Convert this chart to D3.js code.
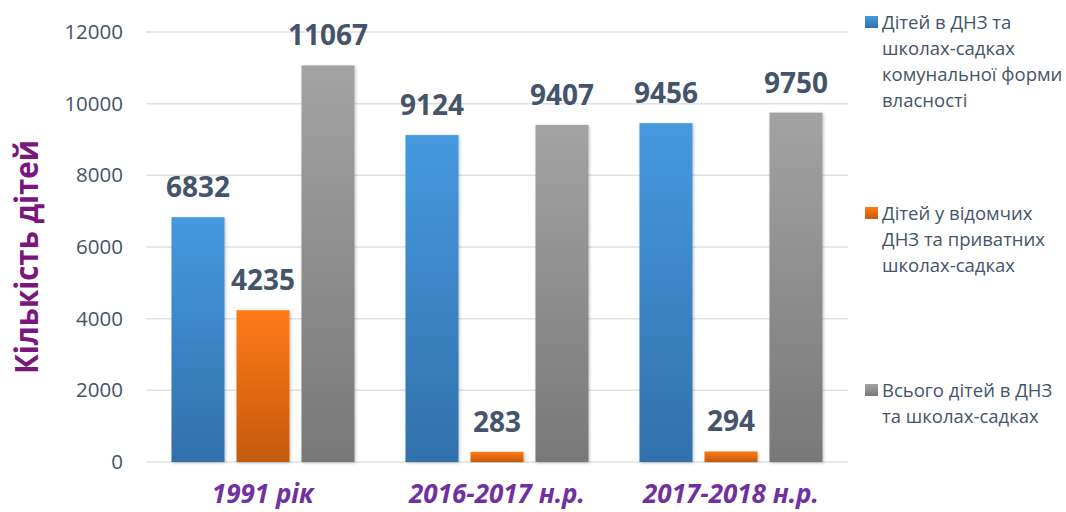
<!DOCTYPE html>
<html>
<head>
<meta charset="utf-8">
<script src="https://cdn.jsdelivr.net/npm/d3@7"></script>
<style>
  body { margin: 0; background: #fff; }
  svg { display: block; }
</style>
</head>
<body>
<svg id="chart" width="1066" height="512"></svg>
<script>
const categories = ["1991 рік", "2016-2017 н.р.", "2017-2018 н.р."];
const seriesNames = [
  "Дітей в ДНЗ та школах-садках комунальної форми власності",
  "Дітей у відомчих ДНЗ та приватних школах-садках",
  "Всього дітей в ДНЗ та школах-садках"
];
const legendLines = [
  ["Дітей в ДНЗ та", "школах-садках", "комунальної форми", "власності"],
  ["Дітей у відомчих", "ДНЗ та приватних", "школах-садках"],
  ["Всього дітей в ДНЗ", "та школах-садках"]
];
const communal = [6832, 9124, 9456];
const privateDept = [4235, 283, 294];
const total = [11067, 9407, 9750];
const seriesValues = [communal, privateDept, total];
const yTicks = [0, 2000, 4000, 6000, 8000, 10000, 12000];
const yTitle = "Кількість дітей";

const gradStops = [
  ["#4599e0", "#3270aa"],
  ["#ff7a12", "#c55a11"],
  ["#a3a3a3", "#787878"]
];

const svg = d3.select("#chart");
const mLeft = 146, mRight = 848, mTop = 32, mBottom = 462;

const defs = svg.append("defs");
gradStops.forEach((g, i) => {
  const lg = defs.append("linearGradient").attr("id", "g" + i)
    .attr("x1", 0).attr("y1", 0).attr("x2", 0).attr("y2", 1);
  lg.append("stop").attr("offset", "0%").attr("stop-color", g[0]);
  lg.append("stop").attr("offset", "100%").attr("stop-color", g[1]);
});
const f = defs.append("filter").attr("id", "shadow").attr("x", "-20%").attr("y", "-5%").attr("width", "140%").attr("height", "110%");
f.append("feDropShadow").attr("dx", 1).attr("dy", 1).attr("stdDeviation", 1.5).attr("flood-color", "#000").attr("flood-opacity", 0.25);

const y = d3.scaleLinear().domain([0, 12000]).range([mBottom, mTop]);
const x0 = d3.scaleBand().domain(categories).range([mLeft, mRight]).paddingInner(0.218).paddingOuter(0.109);
const x1 = d3.scaleBand().domain(d3.range(3)).range([0, x0.bandwidth()]).paddingInner(0.1846).paddingOuter(0);

// gridlines
svg.append("g").selectAll("line").data(yTicks).join("line")
  .attr("x1", mLeft).attr("x2", mRight)
  .attr("y1", d => y(d)).attr("y2", d => y(d))
  .attr("stroke", "#dde2e8").attr("stroke-width", 1.5);

// y axis labels
const yAxis = svg.append("g").attr("transform", `translate(${mLeft},0)`)
  .call(d3.axisLeft(y).tickValues(yTicks).tickSize(0).tickPadding(23).tickFormat(d3.format("d")));
yAxis.select(".domain").remove();
yAxis.selectAll("text").attr("font-family", "Open Sans").attr("font-size", 20.5).attr("fill", "#44546a");

// y title
svg.append("text")
  .attr("transform", `translate(38,${(140 + 374) / 2}) rotate(-90)`)
  .attr("text-anchor", "middle")
  .attr("font-family", "Open Sans").attr("font-weight", "bold").attr("font-size", 33)
  .attr("fill", "#7b167d")
  .attr("textLength", 234).attr("lengthAdjust", "spacingAndGlyphs")
  .text(yTitle);

// bars
const groups = svg.append("g").selectAll("g").data(categories).join("g")
  .attr("transform", d => `translate(${x0(d)},0)`);

groups.each(function(cat, ci) {
  const g = d3.select(this);
  seriesValues.forEach((vals, si) => {
    const v = vals[ci];
    g.append("rect")
      .attr("x", x1(si)).attr("width", x1.bandwidth())
      .attr("y", y(v)).attr("height", y(0) - y(v))
      .attr("fill", `url(#g${si})`)
      .attr("filter", "url(#shadow)");
    g.append("text")
      .attr("x", x1(si) + x1.bandwidth() / 2)
      .attr("y", y(v) - 20)
      .attr("text-anchor", "middle")
      .attr("font-family", "Open Sans").attr("font-weight", "bold").attr("font-size", 28)
      .attr("fill", "#44546a")
      .text(v);
  });
});

// category labels
svg.append("g").selectAll("text").data(categories).join("text")
  .attr("x", d => x0(d) + x0.bandwidth() / 2)
  .attr("y", 503)
  .attr("text-anchor", "middle")
  .attr("font-family", "Open Sans").attr("font-weight", "bold").attr("font-style", "italic")
  .attr("font-size", 26).attr("fill", "#7030a0")
  .text(d => d);

// legend
const legendTops = [22, 213, 390];
const legend = svg.append("g");
legendLines.forEach((lines, i) => {
  legend.append("rect")
    .attr("x", 865).attr("y", legendTops[i] - 6).attr("width", 13).attr("height", 12)
    .attr("fill", `url(#g${i})`);
  const t = legend.append("text")
    .attr("font-family", "Open Sans").attr("font-size", 18.5).attr("fill", "#44546a");
  lines.forEach((ln, j) => {
    t.append("tspan").attr("x", 882).attr("y", legendTops[i] + 7 + j * 26).text(ln);
  });
});
</script>
</body>
</html>
